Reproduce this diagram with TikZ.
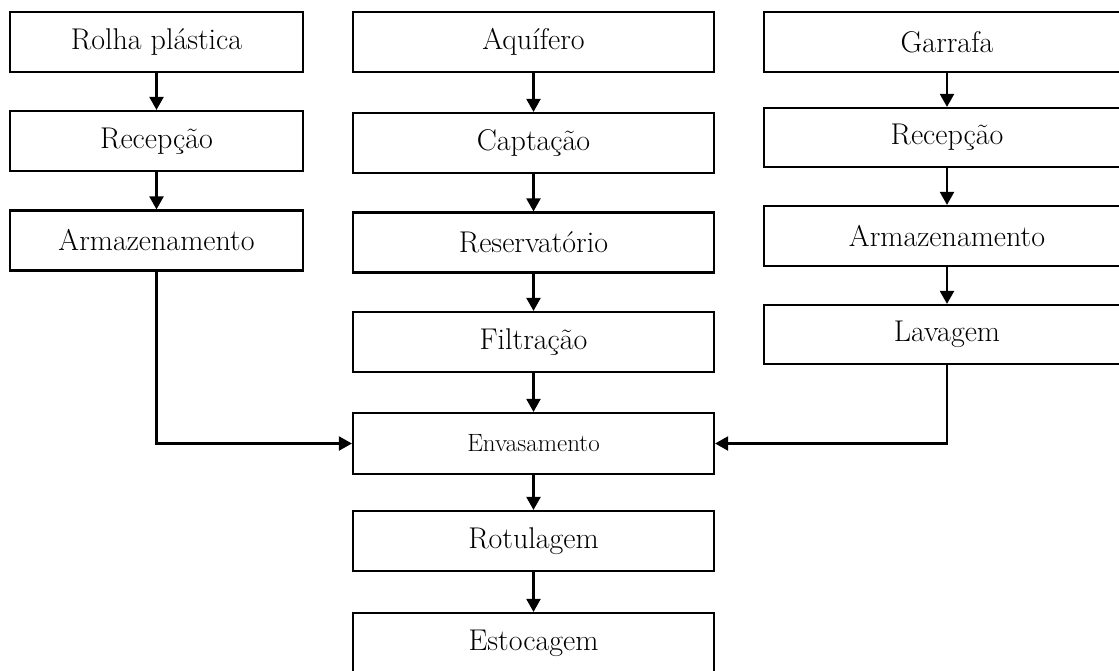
\documentclass[tikz,border=0pt]{standalone}
\usetikzlibrary{arrows.meta}
\begin{document}
\begin{tikzpicture}[x=1pt,y=-1pt,
  box/.style={draw, line width=2.2pt, inner sep=0pt, minimum height=60pt, font=\fontsize{30}{36}\selectfont},
  lbox/.style={box, minimum width=293pt},
  mbox/.style={box, minimum width=361pt},
  rbox/.style={box, minimum width=366pt},
  arr/.style={line width=2.2pt, -{Triangle[width=14pt,length=13pt]}}]
\useasboundingbox (0,0) rectangle (1119,670);
\clip (0,0) rectangle (1119,670);
% left column
\node[lbox] (l1) at (156.5,42) {Rolha plástica};
\node[lbox] (l2) at (156.5,141) {Recepção};
\node[lbox] (l3) at (156.5,240.5) {Armazenamento};
% middle column
\node[mbox] (m1) at (533.5,42) {Aquífero};
\node[mbox] (m2) at (533.5,143) {Captação};
\node[mbox] (m3) at (533.5,242.5) {Reservatório};
\node[mbox] (m4) at (533.5,342) {Filtração};
\node[mbox, minimum height=61pt, font=\fontsize{25}{30}\selectfont] (m5) at (533.5,443.5) {Envasamento};
\node[mbox] (m6) at (533.5,541) {Rotulagem};
\node[mbox] (m7) at (533.5,643) {Estocagem};
% right column
\node[rbox] (r1) at (947,42) {Garrafa};
\node[rbox, minimum height=59pt] (r2) at (947,137.5) {Recepção};
\node[rbox] (r3) at (947,236) {Armazenamento};
\node[rbox, minimum height=59pt] (r4) at (947,334.5) {Lavagem};
% connectors
\draw[arr] (l1) -- (l2);
\draw[arr] (l2) -- (l3);
\draw[arr] (m1) -- (m2);
\draw[arr] (m2) -- (m3);
\draw[arr] (m3) -- (m4);
\draw[arr] (m4) -- (m5);
\draw[arr] (m5) -- (m6);
\draw[arr] (m6) -- (m7);
\draw[arr] (r1) -- (r2);
\draw[arr] (r2) -- (r3);
\draw[arr] (r3) -- (r4);
\draw[arr] (l3.south) |- (m5.west);
\draw[arr] (r4.south) |- (m5.east);
\end{tikzpicture}
\end{document}
